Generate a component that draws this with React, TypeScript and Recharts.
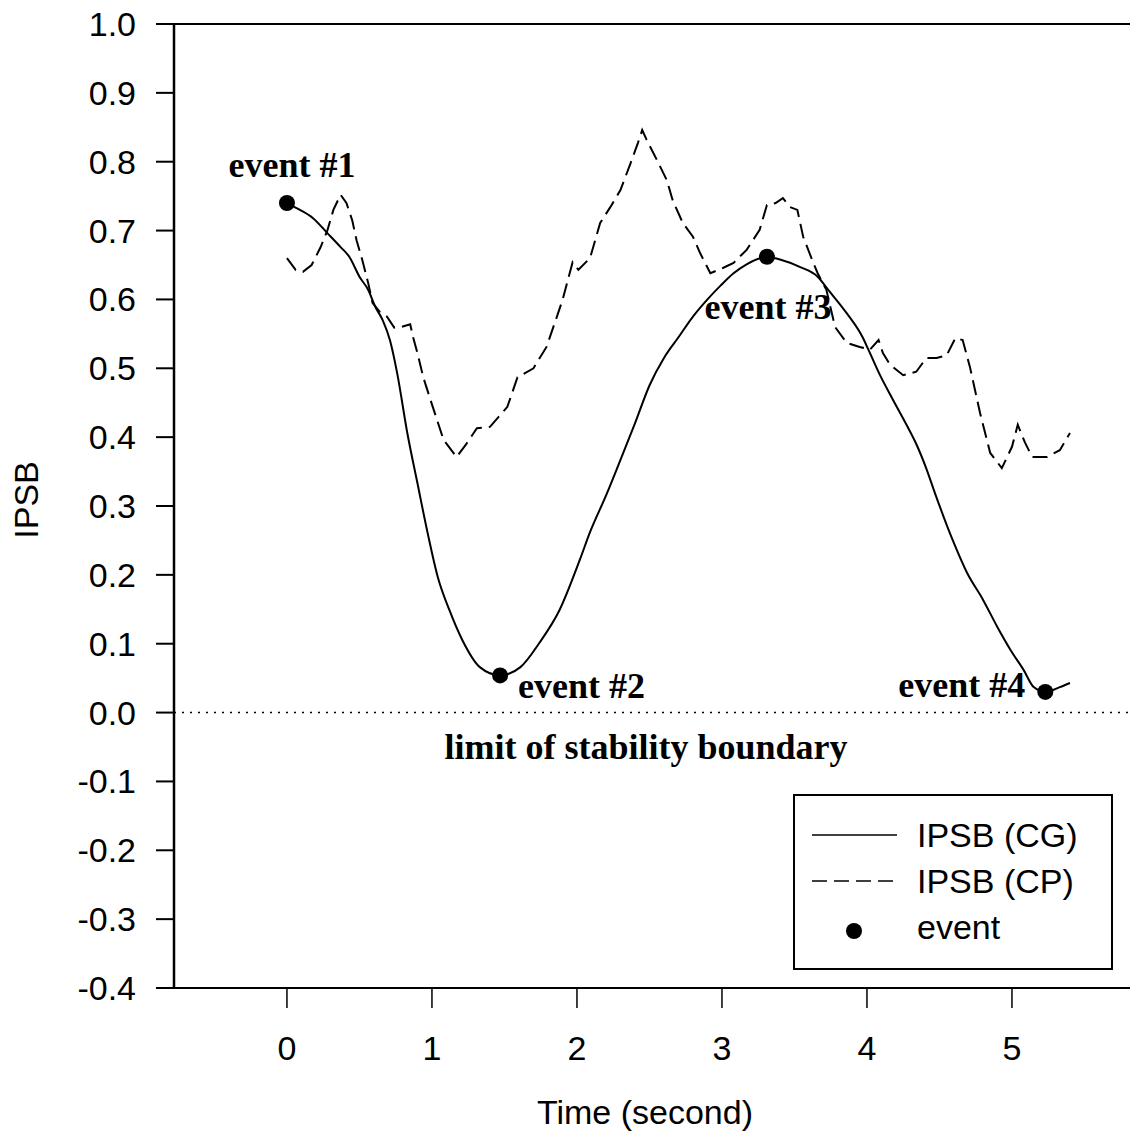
import { ComposedChart, Line, Scatter, XAxis, YAxis, ReferenceLine, Legend } from 'recharts';

// IPSB computed from centre of gravity (solid)
const cgTime = [
  0, 0.09, 0.18, 0.28, 0.37, 0.43, 0.5, 0.56, 0.61, 0.66, 0.71, 0.76, 0.83, 0.9, 0.97, 1.04, 1.12, 1.21,
  1.33, 1.47, 1.61, 1.74, 1.88, 2.02, 2.09, 2.2, 2.3, 2.4, 2.5, 2.6, 2.7, 2.8, 2.9, 2.99, 3.08, 3.17,
  3.31, 3.4, 3.54, 3.66, 3.74, 3.86, 3.97, 4.01, 4.09, 4.18, 4.28, 4.34, 4.41, 4.47, 4.59, 4.69, 4.8,
  4.9, 4.99, 5.08, 5.15, 5.23, 5.33, 5.4
];
const cgValue = [
  0.74, 0.73, 0.718, 0.696, 0.676, 0.662, 0.633, 0.614, 0.589, 0.57, 0.541, 0.493, 0.406, 0.333, 0.261,
  0.197, 0.149, 0.105, 0.066, 0.054, 0.066, 0.101, 0.149, 0.222, 0.262, 0.315, 0.367, 0.42, 0.475, 0.515,
  0.545, 0.575, 0.6, 0.62, 0.638, 0.651, 0.662, 0.658, 0.647, 0.633, 0.612, 0.58, 0.545, 0.527, 0.49,
  0.454, 0.415, 0.39, 0.354, 0.318, 0.251, 0.203, 0.164, 0.124, 0.091, 0.062, 0.037, 0.03, 0.037, 0.043
];

// IPSB computed from centre of pressure (dashed)
const cpTime = [
  0, 0.06, 0.11, 0.17, 0.23, 0.28, 0.32, 0.37, 0.41, 0.45, 0.48, 0.52, 0.56, 0.59, 0.64, 0.69, 0.74,
  0.79, 0.85, 0.87, 0.9, 0.94, 0.99, 1.08, 1.17, 1.24, 1.31, 1.4, 1.52, 1.59, 1.7, 1.79, 1.86, 1.9, 1.97,
  2.01, 2.09, 2.16, 2.23, 2.3, 2.37, 2.42, 2.45, 2.48, 2.55, 2.62, 2.66, 2.73, 2.8, 2.85, 2.92, 3.01,
  3.08, 3.17, 3.26, 3.31, 3.37, 3.42, 3.47, 3.52, 3.56, 3.63, 3.66, 3.72, 3.78, 3.86, 3.95, 4.02, 4.08,
  4.11, 4.16, 4.25, 4.34, 4.41, 4.48, 4.55, 4.61, 4.66, 4.71, 4.78, 4.85, 4.93, 5.0, 5.04, 5.09, 5.14,
  5.24, 5.33, 5.4
];
const cpValue = [
  0.66, 0.643, 0.64, 0.65, 0.675, 0.701, 0.73, 0.752, 0.74, 0.715, 0.686, 0.657, 0.624, 0.595, 0.582,
  0.575, 0.559, 0.56, 0.564, 0.545, 0.522, 0.487, 0.454, 0.396, 0.371, 0.391, 0.413, 0.415, 0.444, 0.487,
  0.5, 0.531, 0.574, 0.599, 0.654, 0.643, 0.66, 0.711, 0.734, 0.759, 0.798, 0.827, 0.846, 0.832, 0.803,
  0.773, 0.744, 0.711, 0.691, 0.667, 0.638, 0.646, 0.653, 0.672, 0.701, 0.737, 0.74, 0.747, 0.734, 0.73,
  0.691, 0.653, 0.638, 0.614, 0.56, 0.537, 0.531, 0.527, 0.541, 0.522, 0.505, 0.49, 0.495, 0.515, 0.515,
  0.519, 0.544, 0.541, 0.502, 0.435, 0.377, 0.355, 0.386, 0.418, 0.392, 0.371, 0.371, 0.381, 0.406
];

const eventTime = [0, 1.47, 3.31, 5.23];
const eventValue = [0.74, 0.054, 0.662, 0.03];
const eventLabels = ['event #1', 'event #2', 'event #3', 'event #4'];

const xTicks = [0, 1, 2, 3, 4, 5];
const yTicks = [-0.4, -0.3, -0.2, -0.1, 0, 0.1, 0.2, 0.3, 0.4, 0.5, 0.6, 0.7, 0.8, 0.9, 1.0];

const cgData = cgTime.map((t, i) => ({ t, cg: cgValue[i] }));
const cpData = cpTime.map((t, i) => ({ t, cp: cpValue[i] }));
const eventData = eventTime.map((t, i) => ({ t, v: eventValue[i], label: eventLabels[i] }));

const SANS = '"Liberation Sans", Arial, sans-serif';
const SERIF = '"Liberation Serif", "Times New Roman", serif';

// where each event caption sits relative to its dot
const LABEL_POS: { dx: number; dy: number; anchor: 'start' | 'middle' | 'end' }[] = [
  { dx: 5, dy: -26, anchor: 'middle' },
  { dx: 18, dy: 23, anchor: 'start' },
  { dx: 1, dy: 62, anchor: 'middle' },
  { dx: -20, dy: 5, anchor: 'end' }
];

function EventDot(props: any) {
  const { cx, cy, payload } = props;
  const i = eventLabels.indexOf(payload.label);
  const pos = LABEL_POS[i] || LABEL_POS[0];
  return (
    <g>
      <circle cx={cx} cy={cy} r={8} fill="#000" />
      <text
        x={cx + pos.dx}
        y={cy + pos.dy}
        textAnchor={pos.anchor}
        fontFamily={SERIF}
        fontWeight="bold"
        fontSize={36}
        fill="#000"
      >
        {payload.label}
      </text>
    </g>
  );
}

function renderLegend(props: any) {
  const payload = props.payload || [];
  return (
    <div
      style={{
        width: 320,
        height: 176,
        border: '2px solid #000',
        boxSizing: 'border-box',
        background: '#fff'
      }}
    >
      <svg width={316} height={172}>
        {payload.map((entry: any, i: number) => {
          const y = 39 + i * 46;
          const dash = entry.payload?.strokeDasharray;
          return (
            <g key={entry.value}>
              {entry.type === 'circle' ? (
                <circle cx={59} cy={y + 4} r={8} fill="#000" />
              ) : (
                <line x1={17} x2={102} y1={y} y2={y} stroke="#000" strokeWidth={1.5} strokeDasharray={dash} />
              )}
              <text
                x={122}
                y={y}
                dominantBaseline="central"
                fontFamily={SANS}
                fontSize={34}
                fill="#000"
              >
                {entry.value}
              </text>
            </g>
          );
        })}
      </svg>
    </div>
  );
}

function XLabel(props: any) {
  const { viewBox } = props;
  return (
    <text
      x={viewBox.x + viewBox.width / 2 - 7}
      y={viewBox.y + 136}
      textAnchor="middle"
      fontFamily={SANS}
      fontSize={34}
      fill="#000"
    >
      Time (second)
    </text>
  );
}

function YLabel(props: any) {
  const { viewBox } = props;
  const cx = 26;
  const cy = viewBox.y + viewBox.height / 2 - 6;
  return (
    <text
      x={cx}
      y={cy}
      transform={`rotate(-90 ${cx} ${cy})`}
      textAnchor="middle"
      dominantBaseline="central"
      fontFamily={SANS}
      fontSize={34}
      fill="#000"
    >
      IPSB
    </text>
  );
}

function BoundaryLabel(props: any) {
  const { viewBox } = props;
  return (
    <text
      x={viewBox.x + viewBox.width / 2 - 6}
      y={viewBox.y + 46}
      textAnchor="middle"
      fontFamily={SERIF}
      fontWeight="bold"
      fontSize={36}
      fill="#000"
    >
      limit of stability boundary
    </text>
  );
}

export default function App() {
  return (
    <div style={{ position: 'absolute', left: 0, top: 0, width: 1130, height: 1135, background: '#fff' }}>
      <ComposedChart width={1130} height={1135} margin={{ top: 24, right: 0, bottom: 0, left: 0 }}>
        <XAxis
          dataKey="t"
          type="number"
          domain={[-0.779, 5.814]}
          allowDataOverflow
          ticks={xTicks}
          interval={0}
          height={147}
          tickSize={20}
          tickMargin={28}
          axisLine={{ stroke: '#000', strokeWidth: 2 }}
          tickLine={{ stroke: '#000', strokeWidth: 1.5 }}
          tick={{ fill: '#000', fontSize: 34, fontFamily: SANS }}
          label={<XLabel />}
        />
        <YAxis
          type="number"
          domain={[-0.4, 1.0]}
          allowDataOverflow
          ticks={yTicks}
          interval={0}
          width={174}
          tickSize={18}
          tickMargin={20}
          tickFormatter={(v: number) => v.toFixed(1)}
          axisLine={{ stroke: '#000', strokeWidth: 2.5 }}
          tickLine={{ stroke: '#000', strokeWidth: 2 }}
          tick={{ fill: '#000', fontSize: 34, fontFamily: SANS }}
          label={<YLabel />}
        />
        <ReferenceLine y={1} stroke="#000" strokeWidth={2} />
        <ReferenceLine y={0} stroke="#000" strokeWidth={1.5} strokeDasharray="2 6" label={<BoundaryLabel />} />
        <Line
          data={cgData}
          dataKey="cg"
          name="IPSB (CG)"
          type="monotone"
          stroke="#000"
          strokeWidth={2}
          dot={false}
          legendType="line"
          isAnimationActive={false}
        />
        <Line
          data={cpData}
          dataKey="cp"
          name="IPSB (CP)"
          type="linear"
          stroke="#000"
          strokeWidth={2}
          strokeDasharray="15 7"
          dot={false}
          legendType="line"
          isAnimationActive={false}
        />
        <Scatter
          data={eventData}
          dataKey="v"
          name="event"
          fill="#000"
          legendType="circle"
          shape={<EventDot />}
          isAnimationActive={false}
        />
        <Legend
          layout="horizontal"
          align="center"
          verticalAlign="middle"
          content={renderLegend}
          wrapperStyle={{ left: 793, top: 794, width: 320, height: 176 }}
        />
      </ComposedChart>
    </div>
  );
}
